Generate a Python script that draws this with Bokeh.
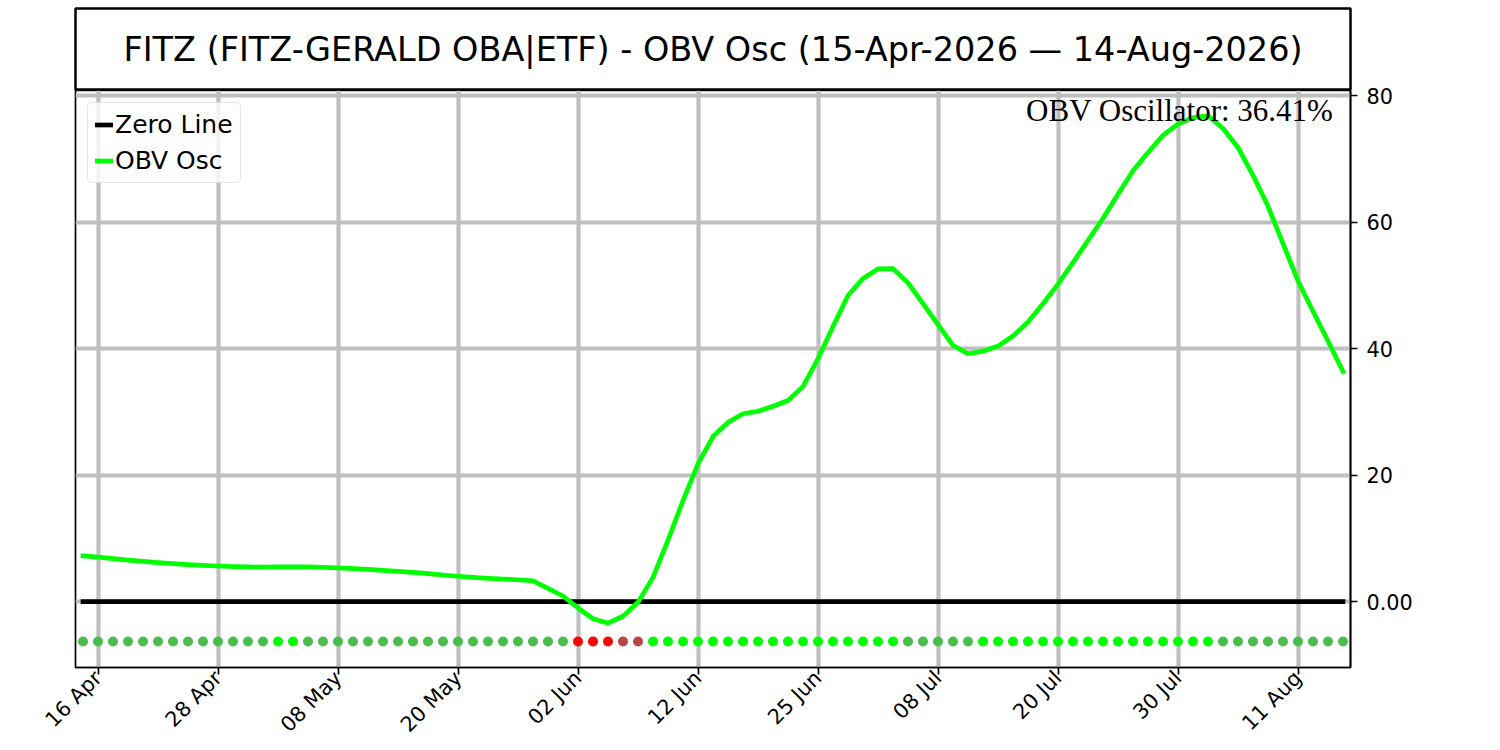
import math
import pandas as pd
from bokeh.plotting import figure
from bokeh.models import (Range1d, FixedTicker, Label, Legend, LegendItem,
                          ColumnDataSource)
from bokeh.layouts import column
from bokeh.embed import file_html
from bokeh.resources import INLINE

# ---------------- data ----------------
symbol = "FITZ"
fund_name = "FITZ-GERALD OBA|ETF"
holidays = ["2026-05-25", "2026-06-19", "2026-07-03"]
dates = pd.bdate_range("2026-04-15", "2026-08-14", freq="C", holidays=holidays)

obv_osc = [
    7.25, 7.05, 6.80, 6.58, 6.38, 6.18, 6.02, 5.87, 5.75, 5.64,
    5.55, 5.49, 5.46, 5.49, 5.52, 5.50, 5.44, 5.34, 5.23, 5.11,
    4.96, 4.80, 4.63, 4.43, 4.22, 4.02, 3.85, 3.70, 3.58, 3.47,
    3.28, 2.10, 0.90, -1.00, -2.70, -3.40, -2.30, -0.10, 3.85, 9.75,
    15.97, 21.80, 26.10, 28.35, 29.70, 30.10, 30.90, 31.80, 34.00, 38.40,
    43.50, 48.40, 51.10, 52.60, 52.65, 50.40, 47.10, 43.80, 40.50, 39.20,
    39.60, 40.40, 42.00, 44.20, 47.10, 50.20, 53.60, 57.10, 60.60, 64.40,
    68.10, 71.00, 73.70, 75.50, 76.50, 76.80, 74.80, 71.80, 67.40, 62.50,
    56.60, 50.70, 45.90, 41.20, 36.41,
]

# signal state per day (read from the dot row), as runs
signal_runs = [("pos_fall", 13), ("pos_rise", 2), ("pos_fall", 18),
               ("neg_fall", 3), ("neg_rise", 2), ("pos_rise", 17),
               ("pos_fall", 5), ("pos_rise", 16), ("pos_fall", 9)]
signal_colors = {"pos_rise": "#00FF00", "pos_fall": "#4BBD4B",
                 "neg_fall": "#FF0000", "neg_rise": "#B94646"}
signal_level = -6.3

tick_labels = ["16 Apr", "28 Apr", "08 May", "20 May", "02 Jun", "12 Jun",
               "25 Jun", "08 Jul", "20 Jul", "30 Jul", "11 Aug"]
y_ticks = [0, 20, 40, 60, 80]
y_tick_labels = ["0.00", "20", "40", "60", "80"]
zero_level = 0.0

# ---------------- derived ----------------
idx = list(range(len(dates)))
signal = [s for s, n in signal_runs for _ in range(n)]
dot_colors = [signal_colors[s] for s in signal]
day_labels = [d.strftime("%d %b") for d in dates]
tick_idx = [day_labels.index(t) for t in tick_labels]

src = ColumnDataSource(dict(i=idx, obv=obv_osc,
                            sig=[signal_level] * len(idx), c=dot_colors))

W = 1450
LB, RB = 75, 100
FONT = "DejaVu Sans"
OVER = 10  # overlap of the chart canvas under the title box

# ---------------- title box ----------------
title_text = "%s (%s) - OBV Osc (%s \u2014 %s)" % (
    symbol, fund_name, dates[0].strftime("%d-%b-%Y"), dates[-1].strftime("%d-%b-%Y"))

top = figure(width=W, height=90, x_range=Range1d(0, 1), y_range=Range1d(0, 1),
             toolbar_location=None, output_backend="svg",
             min_border_left=LB, min_border_right=RB,
             min_border_top=8, min_border_bottom=0,
             x_axis_location=None, y_axis_location=None)
top.grid.visible = False
top.outline_line_color = "black"
top.outline_line_width = 2.5
top.add_layout(Label(x=0.5, y=0.5, text=title_text, text_align="center",
                     text_baseline="middle", text_font=FONT,
                     text_font_size="33.5px", text_color="black"))

# ---------------- main chart ----------------
p = figure(width=W, height=OVER + 577 + 82, x_range=Range1d(-0.5, len(idx) - 0.5),
           y_range=Range1d(-10.4, 80.8), y_axis_location="right",
           toolbar_location=None, output_backend="svg",
           min_border_left=LB, min_border_right=RB,
           min_border_top=OVER, min_border_bottom=82,
           margin=(-OVER, 0, 0, 0))
p.border_fill_color = None
p.outline_line_color = "black"
p.outline_line_width = 1.7

r_zero = p.line(x=[idx[0], idx[-1]], y=[zero_level, zero_level],
                line_color="black", line_width=4.7, line_cap="square")
r_obv = p.line(x="i", y="obv", source=src, line_color="#00FF00",
               line_width=4.7, line_cap="square", line_join="round")
p.scatter(x="i", y="sig", source=src, size=10, fill_color="c",
          line_color=None, marker="circle")

p.xaxis.ticker = FixedTicker(ticks=tick_idx)
p.xaxis.major_label_overrides = {i: day_labels[i] for i in tick_idx}
p.xaxis.major_label_orientation = math.pi / 4
p.xaxis.major_label_standoff = 0
p.yaxis.ticker = FixedTicker(ticks=y_ticks)
p.yaxis.major_label_overrides = dict(zip(y_ticks, y_tick_labels))
p.yaxis.major_label_standoff = 9

for ax in (p.xaxis, p.yaxis):
    ax.axis_line_color = "black"
    ax.axis_line_width = 1.7
    ax.major_tick_line_color = "black"
    ax.major_tick_line_width = 1.7
    ax.major_tick_out = 7
    ax.major_tick_in = 0
    ax.minor_tick_line_color = None
    ax.major_label_text_font = FONT
    ax.major_label_text_font_size = "20.8px"
    ax.major_label_text_color = "black"

p.grid.grid_line_color = "#BFBFBF"
p.grid.grid_line_width = 4.2

legend = Legend(items=[LegendItem(label="Zero Line", renderers=[r_zero]),
                       LegendItem(label="OBV Osc", renderers=[r_obv])],
                location="top_left", margin=12, padding=7, spacing=7,
                glyph_width=18, glyph_height=29, label_height=29,
                label_standoff=2, label_text_font=FONT,
                label_text_font_size="25px", label_text_color="black",
                border_line_color="#CCCCCC", border_line_width=1.5,
                background_fill_color="white", background_fill_alpha=0.8)
if "border_radius" in Legend.properties():
    legend.border_radius = 5
p.add_layout(legend)

p.add_layout(Label(x=p.x_range.end, y=p.y_range.end, x_offset=-17, y_offset=-2,
                   text="OBV Oscillator: %.2f%%" % obv_osc[-1],
                   text_font="Liberation Serif", text_font_size="31px",
                   text_align="right", text_baseline="top", text_color="black"))

layout = column(top, p)
open("out.html", "w").write(file_html(layout, INLINE))
